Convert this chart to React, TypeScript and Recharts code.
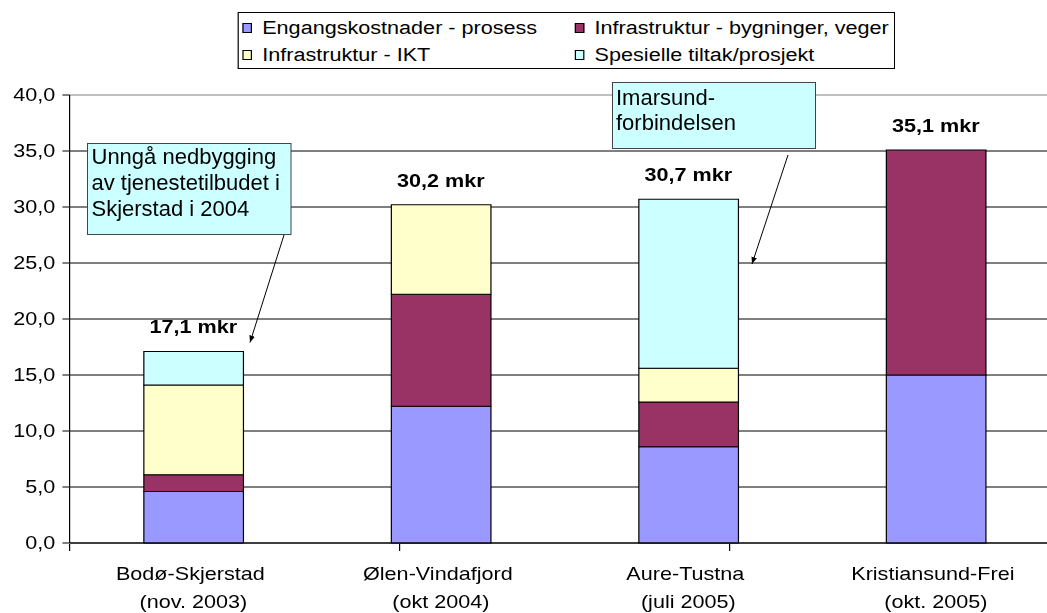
import React from 'react';
import { ComposedChart, Bar, Line, XAxis, YAxis, CartesianGrid, Legend, LabelList } from 'recharts';

const categories = ['Bodø-Skjerstad', 'Ølen-Vindafjord', 'Aure-Tustna', 'Kristiansund-Frei'];
const periods = ['(nov. 2003)', '(okt 2004)', '(juli 2005)', '(okt. 2005)'];
const seriesNames = [
  'Engangskostnader - prosess',
  'Infrastruktur - bygninger, veger',
  'Infrastruktur - IKT',
  'Spesielle tiltak/prosjekt',
];
const engangskostnader = [4.6, 12.2, 8.6, 15.0];
const infraBygninger = [1.5, 10.0, 4.0, 20.1];
const infraIKT = [8.0, 8.0, 3.0, 0];
const spesielleTiltak = [3.0, 0, 15.1, 0];
const yTicks = [0, 5, 10, 15, 20, 25, 30, 35, 40];
const callout1 = ['Unngå nedbygging', 'av tjenestetilbudet i', 'Skjerstad i 2004'];
const callout2 = ['Imarsund-', 'forbindelsen'];

const COLORS = ['#9999FF', '#993366', '#FFFFCC', '#CCFFFF'];
const FONT = '"Liberation Sans", Arial, Helvetica, sans-serif';
const SX = 1.2;

const data = categories.map((name, i) => ({
  name,
  s0: engangskostnader[i],
  s1: infraBygninger[i],
  s2: infraIKT[i],
  s3: spesielleTiltak[i],
  total: Math.round((engangskostnader[i] + infraBygninger[i] + infraIKT[i] + spesielleTiltak[i]) * 10) / 10,
}));

const edgeTicks = [...categories.map((_, i) => i), categories.length];

const fmt = (v: number) => Number(v).toFixed(1).replace('.', ',');

const CategoryTick = (props: any) => {
  const { x, y, payload } = props;
  const idx = categories.indexOf(payload.value);
  return (
    <text x={x} y={y} textAnchor="middle" fontSize={18} fill="#000" fontFamily={FONT} style={{ whiteSpace: 'pre' }}>
      <tspan x={x} dy={37}>{payload.value + ' '}</tspan>
      <tspan x={x} dy={28}>{periods[idx]}</tspan>
    </text>
  );
};

const TotalLabel = (props: any) => {
  const { x, y, value } = props;
  return (
    <text x={x} y={y - 18} textAnchor="middle" fontSize={18} fontWeight="bold" fill="#000" fontFamily={FONT}>
      {fmt(value)} mkr
    </text>
  );
};

const renderLegend = (props: any) => {
  const items = (props.payload || [])
    .filter((p: any) => p.type !== 'none' && seriesNames.indexOf(p.value) >= 0)
    .slice()
    .sort((a: any, b: any) => seriesNames.indexOf(a.value) - seriesNames.indexOf(b.value));
  return (
    <div
      style={{
        boxSizing: 'border-box',
        width: 548,
        height: 57,
        border: '1px solid #000',
        background: '#fff',
        display: 'grid',
        gridTemplateColumns: '277px 1fr',
        paddingLeft: 3,
        paddingTop: 1,
        fontSize: 18,
        lineHeight: '26px',
        fontFamily: FONT,
        color: '#000',
        whiteSpace: 'nowrap',
      }}
    >
      {items.map((it: any) => (
        <div key={it.value} style={{ display: 'flex', alignItems: 'center' }}>
          <span
            style={{
              display: 'inline-block',
              boxSizing: 'border-box',
              width: 8,
              height: 10,
              border: '1px solid #000',
              background: it.color,
              marginRight: 9,
            }}
          />
          <span>{it.value}</span>
        </div>
      ))}
    </div>
  );
};

const gridLine = (p: any) => (
  <line
    key={p.key}
    x1={p.x1}
    y1={p.y1}
    x2={p.x2}
    y2={p.y2}
    stroke={p.index === yTicks.length - 1 ? '#808080' : '#000'}
    strokeWidth={1}
  />
);

export default function App() {
  return (
    <div
      style={{
        position: 'absolute',
        left: 0,
        top: 0,
        width: 1047,
        height: 613,
        overflow: 'hidden',
        background: '#fff',
        fontFamily: FONT,
      }}
    >
      <div style={{ position: 'absolute', left: 0, top: 0, transform: `scaleX(${SX})`, transformOrigin: '0 0' }}>
        <ComposedChart
          width={892}
          height={613}
          data={data}
          margin={{ top: 95, right: 9, bottom: 68, left: 0 }}
          barCategoryGap="30%"
        >
          <CartesianGrid xAxisId="cat" vertical={false} horizontal={gridLine} stroke="#000" />
          <XAxis
            xAxisId="cat"
            dataKey="name"
            height={1}
            axisLine={{ stroke: '#000' }}
            tickLine={false}
            tickSize={0}
            tickMargin={0}
            interval={0}
            tick={<CategoryTick />}
          />
          <XAxis
            xAxisId="edge"
            type="number"
            domain={[0, categories.length]}
            ticks={edgeTicks}
            allowDataOverflow
            height={1}
            axisLine={false}
            tickLine={{ stroke: '#000' }}
            tickSize={7}
            interval={0}
            tick={() => null}
          />
          <YAxis
            domain={[0, 40]}
            ticks={yTicks}
            width={58}
            tickSize={6}
            tickMargin={6}
            interval={0}
            tickFormatter={fmt}
            tick={{ fill: '#000', fontSize: 18, fontFamily: FONT }}
            axisLine={{ stroke: '#000' }}
            tickLine={{ stroke: '#000' }}
          />
          <Legend
            layout="horizontal"
            verticalAlign="middle"
            align="center"
            wrapperStyle={{ top: 12, left: 197.5, width: 548, height: 57 }}
            content={renderLegend}
          />
          {['s0', 's1', 's2', 's3'].map((k, i) => (
            <Bar
              key={k}
              xAxisId="cat"
              dataKey={k}
              name={seriesNames[i]}
              stackId="a"
              fill={COLORS[i]}
              stroke="#000"
              strokeWidth={1}
              isAnimationActive={false}
            />
          ))}
          <Line
            xAxisId="cat"
            dataKey="total"
            stroke="none"
            dot={false}
            activeDot={false}
            legendType="none"
            isAnimationActive={false}
          >
            <LabelList dataKey="total" content={TotalLabel} />
          </Line>
        </ComposedChart>
      </div>
      <svg
        width={1047}
        height={613}
        style={{ position: 'absolute', left: 0, top: 0, pointerEvents: 'none' }}
        fontFamily={FONT}
      >
        <defs>
          <marker id="ah" viewBox="0 0 10 10" refX="10" refY="5" markerWidth="7" markerHeight="7" orient="auto">
            <path d="M0,1 L10,5 L0,9 z" fill="#000" />
          </marker>
        </defs>
        <rect x={87.5} y={143.5} width={203.5} height={91} fill="#CCFFFF" stroke="#444" strokeWidth={1} />
        <text fontSize={22} fill="#000">
          {callout1.map((t, i) => (
            <tspan key={t} x={91.5} y={164 + i * 26}>{t}</tspan>
          ))}
        </text>
        <line x1={284} y1={235} x2={250} y2={342.5} stroke="#000" strokeWidth={1} markerEnd="url(#ah)" />
        <rect x={612.5} y={82.5} width={203} height={66} fill="#CCFFFF" stroke="#444" strokeWidth={1} />
        <text fontSize={22} fill="#000">
          {callout2.map((t, i) => (
            <tspan key={t} x={616} y={104.5 + i * 25.5}>{t}</tspan>
          ))}
        </text>
        <line x1={788} y1={155} x2={752} y2={264} stroke="#000" strokeWidth={1} markerEnd="url(#ah)" />
      </svg>
    </div>
  );
}
